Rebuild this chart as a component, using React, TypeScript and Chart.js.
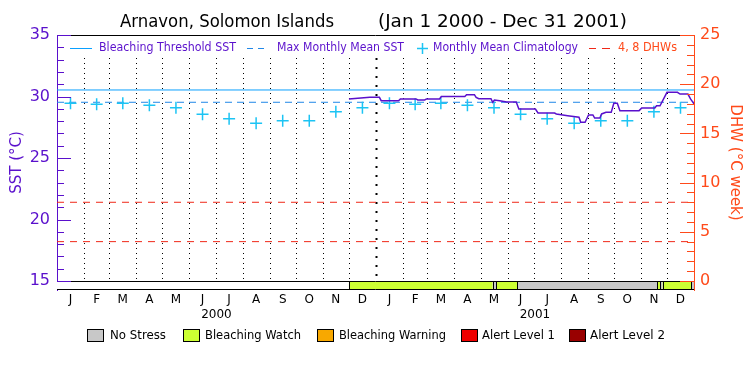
import React, { useEffect, useRef } from "react";
import { Chart, registerables } from "chart.js";
Chart.register(...registerables);

const titleLeft = "Arnavon, Solomon Islands";
const titleRight = "(Jan 1 2000 - Dec 31 2001)";
const monthLetters = ["J", "F", "M", "A", "M", "J", "J", "A", "S", "O", "N", "D"];
const yearLabels = ["2000", "2001"];
const climatology = [29.45, 29.37, 29.45, 29.28, 29.09, 28.55, 28.2, 27.82, 28.03, 28.03, 28.76, 29.09];
const sstDays = [335, 359, 370, 372, 392, 394, 412, 414, 422, 424, 439, 441, 468, 470, 479, 481, 484, 498, 500, 502, 508, 516, 527, 530, 549, 552, 571, 573, 586, 599, 601, 606, 610, 615, 617, 623, 625, 630, 636, 639, 643, 646, 668, 671, 686, 688, 692, 700, 712, 715, 724, 727, 731];
const sstValues = [29.8, 29.93, 29.93, 29.66, 29.66, 29.8, 29.8, 29.72, 29.72, 29.8, 29.8, 30.0, 30.0, 30.15, 30.15, 29.93, 29.82, 29.82, 29.53, 29.72, 29.66, 29.55, 29.55, 28.98, 28.98, 28.66, 28.66, 28.58, 28.44, 28.31, 27.9, 27.9, 28.5, 28.5, 28.25, 28.25, 28.58, 28.71, 28.71, 29.45, 29.45, 28.85, 28.85, 29.06, 29.06, 29.25, 29.25, 30.34, 30.34, 30.2, 30.2, 29.8, 29.4];
const mmmValue = 29.53;
const thresholdValue = 30.53;
const dhwLevels = [4, 8];
const sstTicks = [15, 20, 25, 30, 35];
const dhwTicks = [0, 5, 10, 15, 20, 25];
const stressStart = [0, 335, 500, 504, 528, 689, 692, 695, 728];
const stressEnd = [335, 500, 504, 528, 689, 692, 695, 728, 731];
const stressLevel = [-1, 1, 0, 1, 0, 1, 0, 1, 0];
const stressNames = ["No Stress", "Bleaching Watch", "Bleaching Warning", "Alert Level 1", "Alert Level 2"];
const stressColors = ["#c8c8c8", "#ccff33", "#f8a800", "#ee0000", "#990000"];

const PURPLE = "#5a10cc";
const ORANGE = "#ff4a1a";
const RED = "#f02818";
const BLUE = "#0aa0ff";
const DBLUE = "#2088e8";
const CYAN = "#1cc4f4";
const FONT = "'DejaVu Sans', sans-serif";

const DAY = 86400000;
const base = Date.UTC(2000, 0, 1);
const monthStarts: number[] = [];
for (let i = 0; i <= 24; i++) {
  monthStarts.push((Date.UTC(2000 + Math.floor(i / 12), i % 12, 1) - base) / DAY);
}
const monthMids = monthStarts.slice(0, 24).map((s, i) => (s + monthStarts[i + 1]) / 2);
const totalDays = monthStarts[24];

function fitText(ctx: CanvasRenderingContext2D, text: string, x: number, y: number, w: number, size: number, color: string) {
  ctx.save();
  ctx.font = `${size}px ${FONT}`;
  ctx.fillStyle = color;
  ctx.textBaseline = "middle";
  ctx.textAlign = "left";
  const m = ctx.measureText(text).width;
  ctx.translate(x, y);
  ctx.scale(w / m, 1);
  ctx.fillText(text, 0, 0);
  ctx.restore();
}

const decor = {
  id: "decor",
  beforeDatasetsDraw(chart: any) {
    const ctx = chart.ctx as CanvasRenderingContext2D;
    const xs = chart.scales.x;
    const y2 = chart.scales.y2;
    const barTop = Math.round(y2.getPixelForValue(0));
    ctx.save();
    for (let i = 1; i < 24; i++) {
      const px = Math.round(xs.getPixelForValue(monthStarts[i])) + 0.5;
      ctx.beginPath();
      if (i === 12) {
        ctx.lineWidth = 2;
        ctx.setLineDash([2, 7]);
      } else {
        ctx.lineWidth = 1;
        ctx.setLineDash([1, 4]);
      }
      ctx.strokeStyle = "#000";
      ctx.moveTo(px, 58);
      ctx.lineTo(px, barTop);
      ctx.stroke();
    }
    ctx.restore();
  },
  afterDraw(chart: any) {
    const ctx = chart.ctx as CanvasRenderingContext2D;
    const area = chart.chartArea;
    const xs = chart.scales.x;
    const ys = chart.scales.y;
    const y2 = chart.scales.y2;
    ctx.save();
    // stress bar
    const barTop = Math.round(ys.getPixelForValue(15)) + 0.5;
    const barBot = Math.round(area.bottom) - 0.5;
    for (let i = 0; i < stressStart.length; i++) {
      const a = xs.getPixelForValue(stressStart[i]);
      const b = xs.getPixelForValue(stressEnd[i]);
      ctx.fillStyle = stressLevel[i] < 0 ? "#ffffff" : stressColors[stressLevel[i]];
      ctx.fillRect(a, barTop, b - a, barBot - barTop);
    }
    ctx.strokeStyle = "#000";
    ctx.lineWidth = 1;
    for (let i = 1; i < stressStart.length; i++) {
      const a = Math.round(xs.getPixelForValue(stressStart[i])) + 0.5;
      ctx.beginPath();
      ctx.moveTo(a, barTop);
      ctx.lineTo(a, barBot);
      ctx.stroke();
    }
    ctx.beginPath();
    ctx.moveTo(area.left, barTop);
    ctx.lineTo(area.right, barTop);
    ctx.moveTo(area.left, barBot);
    ctx.lineTo(area.right, barBot);
    ctx.stroke();
    // top border
    ctx.beginPath();
    ctx.moveTo(area.left, Math.round(area.top) + 0.5);
    ctx.lineTo(area.right, Math.round(area.top) + 0.5);
    ctx.stroke();
    // left axis ticks
    ctx.strokeStyle = PURPLE;
    for (let v = 15; v <= 35; v++) {
      const py = Math.round(ys.getPixelForValue(v)) + 0.5;
      const len = v % 5 === 0 ? 14 : 7;
      ctx.beginPath();
      ctx.moveTo(area.left, py);
      ctx.lineTo(area.left + len, py);
      ctx.stroke();
    }
    // right axis ticks
    ctx.strokeStyle = ORANGE;
    for (let v = 0; v <= 25; v++) {
      const py = Math.round(y2.getPixelForValue(v)) + 0.5;
      const len = v % 5 === 0 ? 14 : 7;
      ctx.beginPath();
      ctx.moveTo(area.right, py);
      ctx.lineTo(area.right - len, py);
      ctx.stroke();
    }
    // title
    fitText(ctx, titleLeft, 120, 22, 214, 18, "#000");
    fitText(ctx, titleRight, 378, 22, 249, 18, "#000");
    // inner legend
    const ly = 48.5;
    ctx.lineWidth = 1;
    ctx.strokeStyle = BLUE;
    ctx.beginPath();
    ctx.moveTo(70, ly);
    ctx.lineTo(92, ly);
    ctx.stroke();
    fitText(ctx, "Bleaching Threshold SST", 99, 48, 137, 13, PURPLE);
    ctx.strokeStyle = DBLUE;
    ctx.beginPath();
    ctx.moveTo(247, ly);
    ctx.lineTo(253, ly);
    ctx.moveTo(258, ly);
    ctx.lineTo(264, ly);
    ctx.stroke();
    fitText(ctx, "Max Monthly Mean SST", 277, 48, 127, 13, PURPLE);
    ctx.strokeStyle = CYAN;
    ctx.lineWidth = 1.5;
    ctx.beginPath();
    ctx.moveTo(417, ly);
    ctx.lineTo(428, ly);
    ctx.moveTo(422.5, ly - 5.5);
    ctx.lineTo(422.5, ly + 5.5);
    ctx.stroke();
    fitText(ctx, "Monthly Mean Climatology", 433, 48, 145, 13, PURPLE);
    ctx.strokeStyle = RED;
    ctx.lineWidth = 1;
    ctx.beginPath();
    ctx.moveTo(589, ly);
    ctx.lineTo(596, ly);
    ctx.moveTo(602, ly);
    ctx.lineTo(610, ly);
    ctx.stroke();
    fitText(ctx, "4, 8 DHWs", 618, 48, 59, 13, ORANGE);
    // year labels
    ctx.font = `12px ${FONT}`;
    ctx.fillStyle = "#000";
    ctx.textAlign = "center";
    ctx.textBaseline = "middle";
    ctx.fillText(yearLabels[0], xs.getPixelForValue((monthStarts[0] + monthStarts[12]) / 2), 315);
    ctx.fillText(yearLabels[1], xs.getPixelForValue((monthStarts[12] + monthStarts[24]) / 2), 315);
    // bottom legend
    const boxX = [87, 183, 317, 461, 569];
    const textX = [110, 205, 339, 482, 590];
    const textW = [56, 96, 107, 73, 75];
    for (let i = 0; i < 5; i++) {
      ctx.fillStyle = stressColors[i];
      ctx.fillRect(boxX[i], 329, 16, 12);
      ctx.strokeStyle = "#000";
      ctx.lineWidth = 1;
      ctx.strokeRect(boxX[i] + 0.5, 329.5, 16, 12);
      fitText(ctx, stressNames[i], textX[i], 335.5, textW[i], 12, "#000");
    }
    ctx.restore();
  },
};

export default function App() {
  const ref = useRef<HTMLCanvasElement>(null);
  useEffect(() => {
    document.body.style.margin = "0";
    const canvas = ref.current!;
    const flat = (v: number) => [{ x: 0, y: v }, { x: totalDays, y: v }];
    const climPts = monthMids.map((m, i) => ({ x: m, y: climatology[i % 12] }));
    const sstPts = sstDays.map((d, i) => ({ x: d, y: sstValues[i] }));
    const chart = new Chart(canvas, {
      type: "line",
      data: {
        datasets: [
          { data: sstPts, borderColor: PURPLE, borderWidth: 1.5, pointRadius: 0, yAxisID: "y", order: 0 },
          { data: climPts, showLine: false, pointStyle: "cross", pointRadius: 6, borderWidth: 1.5, borderColor: CYAN, backgroundColor: CYAN, yAxisID: "y", order: 1 },
          { data: flat(thresholdValue), borderColor: BLUE, borderWidth: 1, pointRadius: 0, yAxisID: "y", order: 2 },
          { data: flat(mmmValue), borderColor: DBLUE, borderWidth: 1, borderDash: [7, 5], pointRadius: 0, yAxisID: "y", order: 3 },
          ...dhwLevels.map((d, i) => ({ data: flat(d), borderColor: RED, borderWidth: 1, borderDash: [7, 6], pointRadius: 0, yAxisID: "y2", order: 4 + i })),
        ],
      },
      options: {
        animation: false,
        responsive: false,
        parsing: false as any,
        normalized: true,
        layout: { padding: { top: 35, left: 0, right: 0, bottom: 0 } },
        plugins: { legend: { display: false }, tooltip: { enabled: false }, title: { display: false } },
        scales: {
          x: {
            type: "linear",
            min: 0,
            max: totalDays,
            position: "bottom",
            grid: { display: false, drawTicks: false },
            border: { display: false },
            afterBuildTicks: (s: any) => { s.ticks = monthMids.map((v) => ({ value: v })); },
            afterFit: (s: any) => { s.height = 85; },
            ticks: {
              autoSkip: false,
              maxRotation: 0,
              minRotation: 0,
              padding: 3,
              color: "#000",
              font: { family: FONT, size: 12 },
              callback: (_v: any, i: number) => monthLetters[i % 12],
            },
          },
          y: {
            type: "linear",
            position: "left",
            min: 15 - 9 / 12.3,
            max: 35,
            grid: { display: false, drawTicks: false },
            border: { display: true, color: PURPLE, width: 1 },
            afterBuildTicks: (s: any) => { s.ticks = sstTicks.map((v) => ({ value: v })); },
            afterFit: (s: any) => { s.width = 57; },
            ticks: { color: PURPLE, padding: 7, font: { family: FONT, size: 16 } },
            title: { display: true, text: "SST (°C)", color: PURPLE, font: { family: FONT, size: 15 }, padding: { top: 8, bottom: 0 } },
          },
          y2: {
            type: "linear",
            position: "right",
            min: -9 / 9.84,
            max: 25,
            grid: { display: false, drawTicks: false },
            border: { display: true, color: ORANGE, width: 1 },
            afterBuildTicks: (s: any) => { s.ticks = dhwTicks.map((v) => ({ value: v })); },
            afterFit: (s: any) => { s.width = 56; },
            ticks: { color: ORANGE, padding: 6, font: { family: FONT, size: 16 } },
            title: { display: true, text: "DHW (°C week)", color: ORANGE, font: { family: FONT, size: 15 }, padding: { top: 6, bottom: 0 } },
          },
        },
      },
      plugins: [decor],
    } as any);
    return () => chart.destroy();
  }, []);
  return (
    <div style={{ position: "absolute", left: 0, top: 0, width: 750, height: 375, background: "#fff" }}>
      <canvas ref={ref} width={750} height={375} />
    </div>
  );
}
